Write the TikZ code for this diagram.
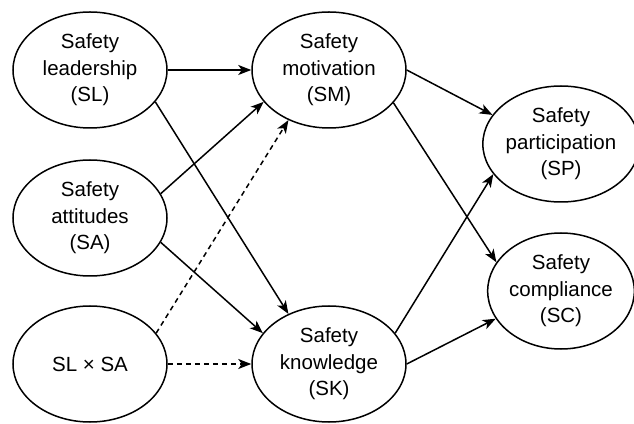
\documentclass[tikz,border=0pt]{standalone}
\usepackage{fontspec}
\setmainfont{Liberation Sans}
\usetikzlibrary{shapes.geometric,arrows.meta}
\begin{document}
\begin{tikzpicture}[x=1pt,y=1pt,
  var/.style={ellipse,draw,line width=1.5pt,minimum width=154pt,minimum height=116pt,inner sep=0pt,align=center,font=\fontsize{20.5}{26.5}\selectfont},
  varr/.style={var,minimum width=144pt},
  arr/.style={line width=1.5pt,-{Stealth[length=13pt,width=10pt,inset=3.5pt]}},
  darr/.style={arr,dash pattern=on 5pt off 4pt}]
\useasboundingbox (0,0) rectangle (634,423);
\node[var] (SL) at (90,353) {Safety\\leadership\\(SL)};
\node[var] (SA) at (90,205) {Safety\\attitudes\\(SA)};
\node[var] (X) at (90,59) {SL × SA};
\node[var] (SM) at (329,353) {Safety\\motivation\\(SM)};
\node[var] (SK) at (329,59) {Safety\\knowledge\\(SK)};
\node[varr] (SP) at (561,279) {Safety\\participation\\(SP)};
\node[varr] (SC) at (561,132) {Safety\\compliance\\(SC)};
\draw[arr] (SL.0) -- (SM.180);
\draw[arr] (SL.-26) -- (SK.129);
\draw[arr] (SA.19) -- (SM.-154);
\draw[arr] (SA.-19) -- (SK.155);
\draw[darr] (X.25) -- (SM.-129);
\draw[darr] (X.0) -- (SK.180);
\draw[arr] (SM.0) -- (SP.157);
\draw[arr] (SM.-27) -- (SC.156);
\draw[arr] (SK.25) -- (SP.-156);
\draw[arr] (SK.0) -- (SC.-157);
\end{tikzpicture}
\end{document}
